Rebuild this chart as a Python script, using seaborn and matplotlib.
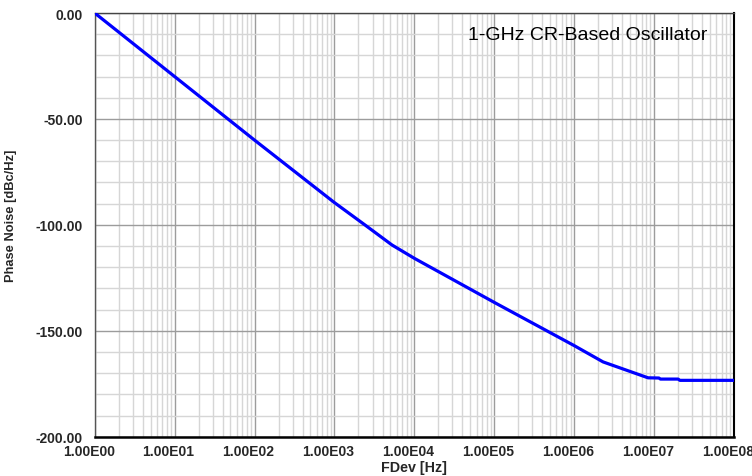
import numpy as np
import pandas as pd
import matplotlib
matplotlib.use("Agg")
import matplotlib.pyplot as plt
import matplotlib.ticker as mticker
import matplotlib.transforms as mtransforms
import seaborn as sns

# Data
fdev_hz = [1, 10, 100, 1000, 2400, 5250, 1e4, 1e5, 1e6, 2.3e6, 8.4e6, 1.15e7, 1.2e7, 2.0e7, 2.1e7, 1e8]
phase_noise = [0, -30, -60, -89.5, -100, -109.5, -115.8, -136.6, -157, -164.7, -172.2, -172.3, -172.8, -172.8, -173.4, -173.4]

x_ticks = [1e0, 1e1, 1e2, 1e3, 1e4, 1e5, 1e6, 1e7, 1e8]
x_tick_labels = ["1.00E00", "1.00E01", "1.00E02", "1.00E03", "1.00E04",
                 "1.00E05", "1.00E06", "1.00E07", "1.00E08"]
y_ticks = [0, -50, -100, -150, -200]
y_tick_labels = ["0.00", "-50.00", "-100.00", "-150.00", "-200.00"]

title_text = "1-GHz CR-Based Oscillator"
x_label = "FDev [Hz]"
y_label = "Phase Noise [dBc/Hz]"

sns.set_style("white")
plt.rcParams['font.family'] = ['Liberation Sans', 'DejaVu Sans']

df = pd.DataFrame({"FDev": fdev_hz, "PN": phase_noise})

fig = plt.figure(figsize=(7.52, 4.77), dpi=100)
ax = fig.add_axes([94.7 / 752, 1 - 437.7 / 477, (734 - 94.7) / 752, (437.7 - 14) / 477])

sns.lineplot(data=df, x="FDev", y="PN", ax=ax, color=(0, 0, 1), linewidth=2.3, zorder=5)

ax.set_xscale("log")
ax.set_xlim(1, 1e8)
ax.set_ylim(-200, 0)

ax.set_xticks(x_ticks)
ax.set_xticklabels(x_tick_labels)
ax.xaxis.set_minor_locator(mticker.LogLocator(base=10, subs=np.arange(2, 10), numticks=100))
ax.xaxis.set_minor_formatter(mticker.NullFormatter())
ax.set_yticks(y_ticks)
ax.set_yticklabels(y_tick_labels)
ax.yaxis.set_minor_locator(mticker.MultipleLocator(10))

ax.tick_params(axis="y", which="both", direction="out", length=6.5, width=1, color="#555555", pad=2)
ax.tick_params(axis="x", which="both", direction="out", length=3, width=1, color="#333333", pad=2)

shift = mtransforms.ScaledTranslation(-6 / 100, 0, fig.dpi_scale_trans)
for lbl in ax.get_xticklabels():
    lbl.set_fontweight("bold")
    lbl.set_fontsize(10)
    lbl.set_transform(lbl.get_transform() + shift)
for lbl in ax.get_yticklabels():
    lbl.set_fontweight("bold")
    lbl.set_fontsize(10)

ax.grid(True, which="major", axis="both", color="#9c9c9c", linewidth=1.0)
ax.grid(True, which="minor", axis="both", color="#d6d6d6", linewidth=1.0)
ax.set_axisbelow(True)

for side in ["top", "right", "bottom", "left"]:
    ax.spines[side].set_visible(True)
ax.spines["bottom"].set_color("black")
ax.spines["bottom"].set_linewidth(1.8)
ax.spines["right"].set_color("black")
ax.spines["right"].set_linewidth(1.5)
ax.spines["top"].set_color("#444444")
ax.spines["top"].set_linewidth(1.0)
ax.spines["left"].set_color("#555555")
ax.spines["left"].set_linewidth(1.0)

ax.set_xlabel(x_label, fontsize=10.3, fontweight="bold")
ax.xaxis.set_label_coords(0.5, -(468 - 437.7) / 423.7)
ax.xaxis.label.set_va("center")
ax.set_ylabel(y_label, fontsize=9.3, fontweight="bold")
ax.yaxis.set_label_coords((11 - 94.7) / 639.3, (437.7 - 216) / 423.7)
ax.yaxis.label.set_va("center")

ax.text((707 - 94.7) / 639.3, (437.7 - 35) / 423.7, title_text, transform=ax.transAxes,
        ha="right", va="center", fontsize=14, color="black", zorder=6)

fig.savefig("out.png", dpi=100)
